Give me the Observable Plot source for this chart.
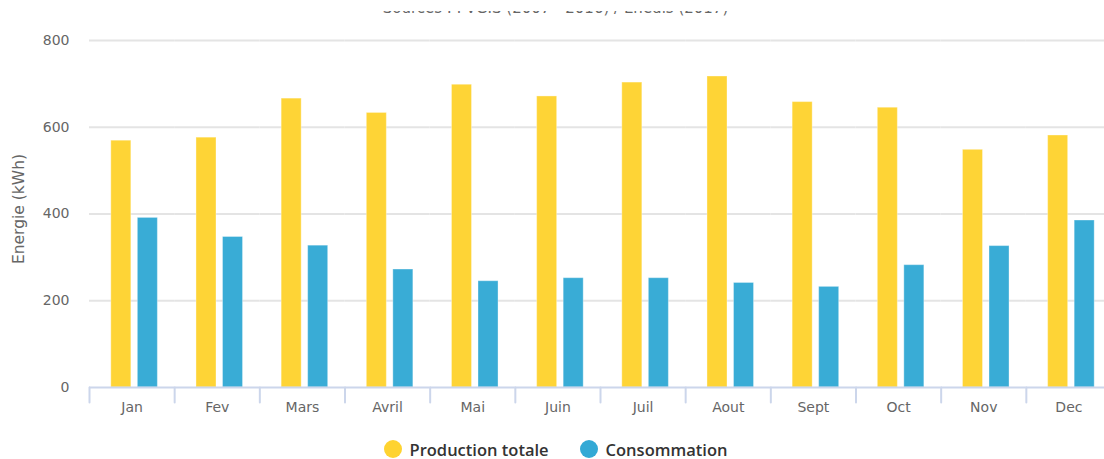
<!DOCTYPE html>
<html>
<head>
<meta charset="utf-8">
<script src="https://cdn.jsdelivr.net/npm/d3@7"></script>
<script src="https://cdn.jsdelivr.net/npm/@observablehq/plot@0.6"></script>
<style>
  html, body { margin: 0; padding: 0; background: #fff; overflow: hidden; }
  #wrap { position: relative; width: 1111px; height: 459px; font-family: "DejaVu Sans", sans-serif; }
  #subtitle { position: absolute; left: 0; top: 11px; width: 1111px; height: 5px; overflow: hidden; }
  #subtitle span { position: absolute; left: 0; right: 0; top: -10px; text-align: center; font-size: 15px; line-height: 15px; color: #666; }
  #chart { position: absolute; left: 0; top: 0; }
  #ylabel { position: absolute; left: 19px; top: 209px; transform: translate(-50%, -50%) rotate(-90deg); white-space: nowrap; font-size: 15.5px; color: #666; }
  #legend { position: absolute; left: 0; top: 440px; width: 1111px; display: flex; justify-content: center; gap: 31px;
    font-family: "Open Sans", sans-serif; font-size: 16.5px; line-height: 17px; font-weight: 600; color: #333; }
  .item { display: flex; align-items: center; gap: 8px; height: 18px; }
  .dot { width: 18px; height: 18px; border-radius: 50%; display: inline-block; }
</style>
</head>
<body>
<div id="wrap">
  <div id="chart"></div>
  <div id="subtitle"><span>Sources : PVGIS (2007 - 2016) / Enedis (2017)</span></div>
  <div id="ylabel">Energie (kWh)</div>
  <div id="legend"></div>
</div>
<script>
// Monthly energy: total PV production vs household consumption (kWh)
const months = ["Jan", "Fev", "Mars", "Avril", "Mai", "Juin", "Juil", "Aout", "Sept", "Oct", "Nov", "Dec"];
const seriesNames = ["Production totale", "Consommation"];
const production = [569, 576, 666, 633, 698, 671, 703, 717, 658, 645, 548, 581];
const consommation = [391, 347, 327, 272, 245, 252, 252, 241, 232, 282, 326, 385];
const yTicks = [0, 200, 400, 600, 800];
const colors = ["#fed330", "#33a9d5"];

const rows = months.flatMap((m, i) => [
  {month: m, series: seriesNames[0], value: production[i]},
  {month: m, series: seriesNames[1], value: consommation[i]}
]);

// short downward stroke used for the category boundary ticks
const tickShape = {draw(context, l) { context.moveTo(0, 0); context.lineTo(0, -l); }};

const chart = Plot.plot({
  width: 1111,
  height: 420,
  marginLeft: 89,
  marginRight: 0,
  marginTop: 40,
  marginBottom: 33,
  style: {fontFamily: "DejaVu Sans, sans-serif", fontSize: "14px", color: "#666", background: "transparent"},
  fx: {domain: months, padding: 0, round: false},
  x: {domain: seriesNames, paddingInner: 0.245, paddingOuter: 0.728, round: false, axis: null},
  y: {domain: [0, 800], ticks: yTicks},
  color: {domain: seriesNames, range: colors},
  marks: [
    Plot.gridY(yTicks.filter(d => d > 0), {stroke: "#e4e4e4", strokeOpacity: 1, strokeWidth: 2}),
    Plot.barY(rows, {fx: "month", x: "series", y: "value", fill: "series", fillOpacity: 0.97, dx: 2.5,
      stroke: "#ffffff", strokeOpacity: 0.35, strokeWidth: 1}),
    Plot.ruleY([0], {stroke: "#ccd6eb", strokeWidth: 2}),
    Plot.vector(months, {fx: d => d, frameAnchor: "bottom-left", length: 15, rotate: 180, anchor: "start",
      shape: tickShape, stroke: "#ccd6eb", strokeWidth: 2}),
    Plot.axisY(yTicks, {tickSize: 0, tickPadding: 20, fill: "#666", fontSize: 14, label: null}),
    Plot.axisFx({anchor: "bottom", tickSize: 0, tickPadding: 15, label: null, fill: "#666", fontSize: 14})
  ]
});
document.getElementById("chart").appendChild(chart);

const legend = d3.select("#legend");
seriesNames.forEach((name, i) => {
  const item = legend.append("div").attr("class", "item");
  item.append("span").attr("class", "dot").style("background", colors[i]);
  item.append("span").text(name);
});
</script>
</body>
</html>
